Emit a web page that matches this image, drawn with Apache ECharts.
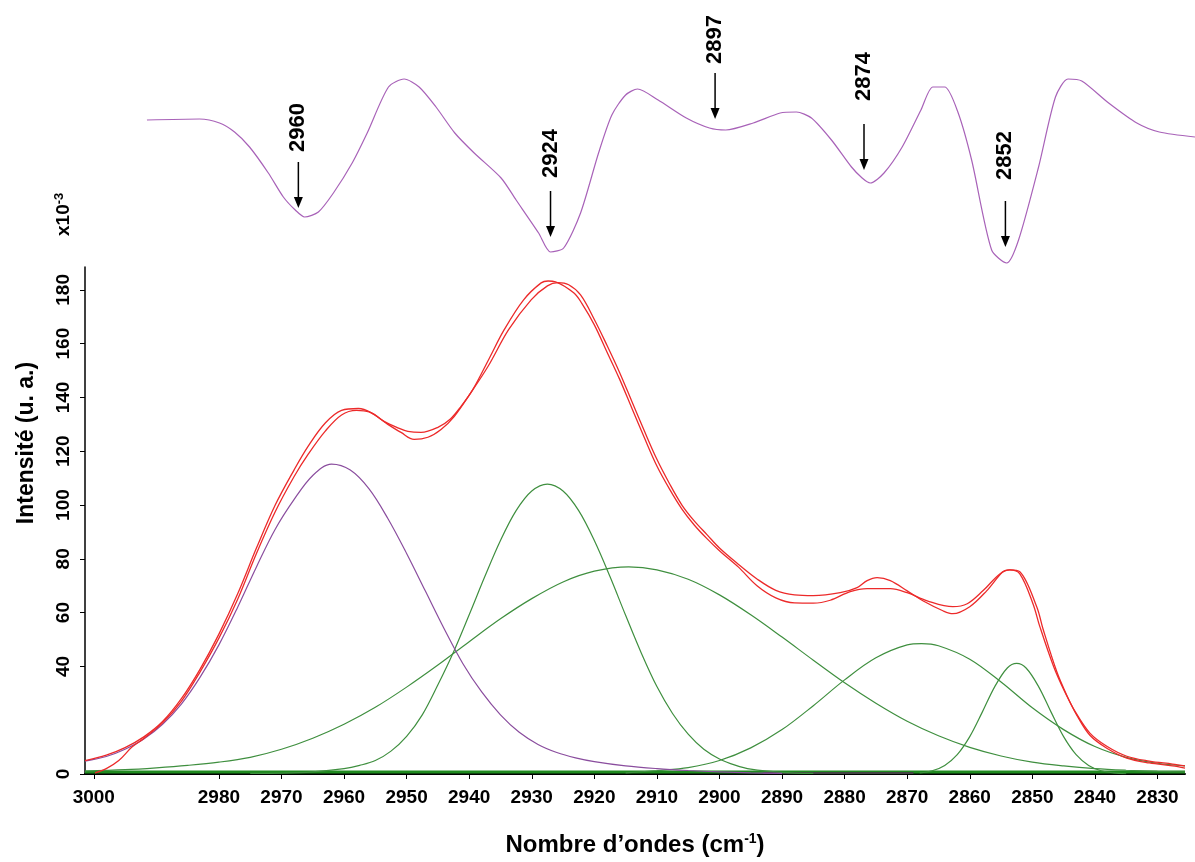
<!DOCTYPE html>
<html><head><meta charset="utf-8">
<script src="https://cdn.jsdelivr.net/npm/echarts@6/dist/echarts.min.js"></script>
<style>html,body{margin:0;padding:0;background:#fff}#c{width:1195px;height:862px}</style>
</head><body><div id="c"></div>
<script>
// ---------- DATA ----------
const xTickValues = [3000, 2980, 2970, 2960, 2950, 2940, 2930, 2920, 2910, 2900, 2890, 2880, 2870, 2860, 2850, 2840, 2830];
const yTickValues = [0, 40, 60, 80, 100, 120, 140, 160, 180];

// experimental spectrum (red)
const expWn = [2999.8, 2998, 2996, 2993.9, 2992, 2989, 2986, 2983, 2980, 2977, 2974, 2971, 2968, 2965.7, 2963, 2960.4, 2958, 2956, 2953, 2950.9, 2948.8, 2946.6, 2944.5, 2942.4, 2939.7, 2937, 2933.7, 2930.1, 2927.5, 2925.8, 2924.1, 2922.2, 2920, 2918, 2916, 2914, 2912, 2910, 2908, 2906, 2904, 2902, 2900, 2897, 2894, 2891, 2888, 2885, 2880.7, 2878, 2876.4, 2874.8, 2872.7, 2870, 2867.5, 2864.3, 2862.7, 2860, 2857.3, 2854.7, 2853.6, 2852, 2849.9, 2848.8, 2846.6, 2844.8, 2843.1, 2840.8, 2838.1, 2834.9, 2831.3, 2827.6, 2825.6];
const expVal = [0.4, 2.0, 5.0, 10.0, 13.2, 19, 27, 38, 50.5, 65, 82, 97.5, 110.5, 119, 127.5, 133.5, 135.2, 134.6, 130, 127, 124.4, 125.2, 128.1, 132.9, 141.9, 151.5, 165.2, 176.3, 181.5, 182.7, 181.9, 178.1, 169, 159.5, 149.5, 138.5, 127.5, 117, 108, 100, 94, 89, 84, 78, 72.5, 68.3, 66.6, 66.3, 67.4, 69.3, 71.9, 73.0, 71.9, 68.1, 64.4, 60.7, 59.6, 62.2, 68.1, 75.2, 75.9, 74.4, 63.3, 54.8, 40, 30.5, 23, 15.2, 10.3, 6.6, 4.8, 3.7, 3.0];

// fitted sum (red)
const fitWn = [3001.4, 2998, 2995, 2992, 2989, 2986, 2983, 2980, 2977, 2974, 2971, 2968, 2965.7, 2963, 2960.4, 2957.7, 2955.5, 2953.6, 2951.5, 2949.8, 2947.7, 2945, 2943, 2941.3, 2939.4, 2936.8, 2934.4, 2931.3, 2928.5, 2927.4, 2926.2, 2923.3, 2922, 2920, 2918, 2916, 2914, 2912, 2910, 2908, 2906, 2904, 2902, 2900, 2897, 2894, 2891, 2888, 2885, 2882.3, 2879.1, 2876.4, 2872.7, 2870, 2866.8, 2862.7, 2860.4, 2857.9, 2855.2, 2853.6, 2852, 2849.3, 2848.3, 2846.1, 2844.5, 2842.9, 2840.8, 2838.1, 2834.9, 2831.3, 2827.6, 2825.6];
const fitVal = [5.0, 7.0, 9.8, 13.8, 19.5, 28, 39, 52, 67, 84, 100, 113, 122, 130.5, 135.2, 135.9, 134.2, 131.1, 128.8, 127.4, 127, 128.9, 132, 136.7, 143, 154.5, 165.2, 176.3, 182.6, 183.3, 183, 178.9, 175, 167, 157, 147, 136, 125, 114.5, 106, 98.5, 92.5, 87.5, 83, 77, 70, 65.5, 63.6, 63.5, 64.6, 67.8, 68.9, 68.9, 67.4, 64.4, 62.2, 63.3, 68.1, 74.4, 75.9, 75.2, 62.2, 54, 38.1, 29.3, 21.9, 14.4, 9.6, 5.9, 4.1, 3.0, 2.2];

// component 2962 (purple)
const p2962Wn = [3001.4, 2998, 2995, 2992, 2989, 2986, 2983, 2980, 2977, 2974, 2971, 2968, 2965, 2962, 2959, 2956, 2953, 2950, 2947, 2944, 2941, 2938, 2935, 2932, 2929, 2926, 2923, 2920, 2915, 2910, 2905, 2900, 2895, 2890];
const p2962Val = [4.8, 6.5, 9.2, 13, 18.5, 26, 36, 48, 62, 77, 91, 102, 111, 115.2, 113, 106, 95, 82, 68, 54, 41, 30.5, 22, 15.5, 11, 8, 6, 4.6, 3, 2, 1.3, 0.8, 0.4, 0.2];

// component 2928 (green)
const p2928Wn = [2975, 2970, 2965, 2960, 2957.5, 2955, 2952.5, 2950, 2947.5, 2945, 2942.5, 2940, 2937.5, 2935, 2932.5, 2930, 2927.5, 2925, 2922.5, 2920, 2917.5, 2915, 2912.5, 2910, 2907.5, 2905, 2902.5, 2900, 2897.5, 2895, 2890, 2885];
const p2928Val = [0.2, 0.3, 0.8, 2.0, 3.2, 5.0, 8.5, 14.0, 22, 33.2, 45.4, 59.2, 73.4, 86.8, 97.9, 105.2, 107.8, 105.2, 97.9, 86.8, 73.4, 59, 45, 32.5, 22.5, 14.8, 9.2, 5.6, 3.3, 1.8, 0.6, 0.2];

// component 2916 (broad, green)
const p2916Wn = [3001.4, 2995, 2990, 2985, 2980, 2975, 2970, 2965, 2960, 2955, 2950, 2945, 2940, 2935, 2930, 2925, 2920, 2914.5, 2910, 2905, 2900, 2895, 2890, 2885, 2880, 2875, 2870, 2865, 2860, 2855, 2850, 2845, 2840, 2835, 2830, 2825.6];
const p2916Val = [1.1, 1.6, 2.3, 3.2, 4.4, 6.2, 9.2, 13.3, 18.5, 24.8, 32.3, 40.5, 49.2, 57.7, 65.2, 71.4, 75.4, 77, 75.9, 72.4, 66.6, 59.2, 50.9, 42.3, 33.9, 26.3, 19.6, 14.2, 9.9, 6.7, 4.4, 3.0, 2.0, 1.4, 1.0, 0.8];

// component 2868 (green)
const p2868Wn = [2915, 2910, 2905, 2900, 2895, 2890, 2885, 2880, 2875, 2870, 2867.7, 2865, 2860, 2855, 2850, 2845, 2840, 2835, 2830, 2825.6];
const p2868Val = [0.4, 1.3, 2.4, 5.0, 9.7, 16.5, 25.4, 35.0, 43.2, 48.0, 48.5, 47.7, 42.7, 34.2, 24.6, 16.5, 10.2, 6.2, 4.0, 3.0];

// component 2853 (green)
const p2853Wn = [2868, 2866, 2864, 2862, 2860, 2858, 2856, 2854, 2852.5, 2851, 2849, 2847, 2845, 2843, 2841, 2839, 2837, 2835];
const p2853Val = [0.4, 1.2, 3.2, 7.2, 13.9, 23.0, 32.5, 39.4, 41.1, 39.4, 32.5, 23.0, 13.9, 7.2, 3.2, 1.2, 0.4, 0.1];

// baseline (green) and dark segment
const baseWn = [3001.4, 2825.6];
const baseVal = [0.7, 0.7];
const darkWn = [2893, 2869];
const darkVal = [0.4, 0.4];

// second derivative (top panel, x10^-3)
const derivWn = [2991.5, 2983.1, 2979.9, 2977.5, 2975.1, 2972.1, 2969.7, 2967.8, 2966.3, 2964.1, 2961.7, 2958.7, 2956.3, 2952.9, 2950.4, 2948.0, 2945.3, 2942.3, 2939.2, 2934.9, 2932.5, 2928.9, 2927.0, 2924.9, 2922.2, 2919.3, 2917.2, 2915.0, 2913.1, 2909.8, 2905.3, 2901.6, 2899.0, 2894.6, 2890.3, 2887.7, 2885.3, 2882.1, 2878.9, 2877.2, 2875.9, 2873.7, 2870.8, 2867.8, 2865.9, 2864.0, 2861.9, 2859.7, 2856.5, 2854.1, 2852.2, 2849.0, 2846.3, 2844.3, 2842.1, 2837.8, 2833.3, 2829.7, 2824.0];
const derivVal = [0, 0.04, -0.12, -0.48, -1.08, -2.12, -3.08, -3.6, -3.88, -3.68, -2.92, -1.72, -0.52, 1.32, 1.64, 1.32, 0.52, -0.52, -1.32, -2.32, -3.2, -4.52, -5.28, -5.12, -3.72, -1.3, 0.2, 1.0, 1.24, 0.8, 0.08, -0.32, -0.4, -0.12, 0.28, 0.32, 0.08, -0.8, -1.88, -2.32, -2.52, -2.12, -1.08, 0.4, 1.32, 1.32, 0.32, -1.6, -5.2, -5.72, -4.8, -1.88, 0.92, 1.64, 1.56, 0.68, -0.12, -0.48, -0.68];

// annotations on the derivative
const annoLabels = ['2960', '2924', '2897', '2874', '2852'];
const annoWn = [2967.3, 2927.0, 2900.7, 2876.9, 2854.3];
const annoTip = [-3.52, -4.68, 0.04, -2.0, -5.08];

// ---------- STYLE / LAYOUT ----------
const FONT = '"Liberation Sans", Arial, sans-serif';
const annoLabelGap = [10, 13, 9, 23, 21];
const RED = '#ec2a2a', GREEN = '#3f8f3f', PURPLE = '#8a4d9e', DERIV = '#a862b8';

const pairs = (wn, v) => wn.map((w, i) => [w, v[i]]);
const lineSeries = (name, wn, v, color, width, z, smooth) => ({
  name, type: 'line', xAxisIndex: 0, yAxisIndex: 0, data: pairs(wn, v),
  showSymbol: false, smooth: smooth === undefined ? 0.35 : smooth, z: z || 2,
  lineStyle: { color, width }, itemStyle: { color }, silent: true, animation: false
});

const chart = echarts.init(document.getElementById('c'), null, { renderer: 'canvas' });
chart.setOption({
  backgroundColor: '#fff',
  animation: false,
  textStyle: { fontFamily: FONT },
  grid: [
    { left: 85, right: 10, top: 267, bottom: 86 },
    { left: 85, right: 0, top: 70, height: 200 }
  ],
  xAxis: [
    {
      gridIndex: 0, type: 'value', inverse: true, min: 2825.6, max: 3001.4,
      axisLine: { show: true, onZero: false, lineStyle: { color: '#000', width: 2 } },
      axisTick: { show: true, customValues: xTickValues, length: 5, lineStyle: { color: '#000', width: 1 } },
      axisLabel: { customValues: xTickValues, formatter: v => String(v), margin: 14, fontSize: 19, fontWeight: 'bold', color: '#000', fontFamily: FONT },
      splitLine: { show: false },
      name: 'Nombre d’ondes (cm{sup|-1})', nameLocation: 'middle', nameGap: 58,
      nameTextStyle: {
        fontSize: 24, fontWeight: 'bold', color: '#000', fontFamily: FONT,
        rich: { sup: { fontSize: 14, fontWeight: 'bold', color: '#000', fontFamily: FONT, verticalAlign: 'top', padding: [0, 0, 12, 0] } }
      }
    },
    { gridIndex: 1, type: 'value', inverse: true, min: 2824.0, max: 3001.4, show: false }
  ],
  yAxis: [
    {
      gridIndex: 0, type: 'value', min: 0, max: 188.5,
      axisLine: { show: true, onZero: false, lineStyle: { color: '#000', width: 1.5 } },
      axisTick: { show: true, customValues: yTickValues, length: 5, lineStyle: { color: '#000', width: 1 } },
      axisLabel: { customValues: yTickValues, formatter: v => String(v), rotate: 90, margin: 12, fontSize: 19, fontWeight: 'bold', color: '#000', fontFamily: FONT },
      splitLine: { show: false }
    },
    { gridIndex: 1, type: 'value', min: -6, max: 2, show: false }
  ],
  graphic: [
    {
      type: 'text', x: 27, y: 443, rotation: Math.PI / 2, silent: true,
      style: { text: 'Intensité (u. a.)', fill: '#000', fontSize: 23, fontWeight: 'bold', fontFamily: FONT, textAlign: 'center', textVerticalAlign: 'middle' }
    },
    {
      type: 'text', x: 64, y: 236, rotation: Math.PI / 2, silent: true,
      style: {
        text: '{b|x10}{s|-3}', fill: '#000', fontSize: 19, fontWeight: 'bold', fontFamily: FONT, textAlign: 'left', textVerticalAlign: 'middle',
        rich: {
          b: { fontSize: 19, fontWeight: 'bold', fill: '#000', fontFamily: FONT, lineHeight: 22 },
          s: { fontSize: 13, fontWeight: 'bold', fill: '#000', fontFamily: FONT, verticalAlign: 'top', lineHeight: 14 }
        }
      }
    }
  ],
  series: [
    lineSeries('Ligne de base', baseWn, baseVal, '#1f8a1f', 3, 1, false),
    lineSeries('Segment', darkWn, darkVal, '#444', 2, 1, false),
    lineSeries('2853', p2853Wn, p2853Val, GREEN, 1.2, 2),
    lineSeries('2868', p2868Wn, p2868Val, GREEN, 1.2, 2),
    lineSeries('2916', p2916Wn, p2916Val, GREEN, 1.2, 2),
    lineSeries('2928', p2928Wn, p2928Val, GREEN, 1.2, 2),
    lineSeries('2962', p2962Wn, p2962Val, PURPLE, 1.2, 3),
    lineSeries('Somme', fitWn, fitVal, RED, 1.3, 4),
    lineSeries('Expérimental', expWn, expVal, RED, 1.3, 4),
    {
      name: 'Dérivée seconde', type: 'line', xAxisIndex: 1, yAxisIndex: 1,
      data: pairs(derivWn, derivVal), showSymbol: false, smooth: 0.25, silent: true,
      lineStyle: { color: DERIV, width: 1.2 }, itemStyle: { color: DERIV }
    },
    {
      name: 'Annotations', type: 'custom', xAxisIndex: 1, yAxisIndex: 1, silent: true, clip: false,
      data: annoWn.map((w, i) => [w, annoTip[i], i]),
      renderItem: function (params, api) {
        const p = api.coord([api.value(0), api.value(1)]);
        const i = api.value(2);
        const len = 46, head = 11, hw = 4.5;
        return {
          type: 'group', children: [
            { type: 'line', shape: { x1: p[0], y1: p[1] - len, x2: p[0], y2: p[1] - head + 1 }, style: { stroke: '#000', lineWidth: 1.5 } },
            { type: 'polygon', shape: { points: [[p[0] - hw, p[1] - head], [p[0] + hw, p[1] - head], [p[0], p[1]]] }, style: { fill: '#000' } },
            { type: 'text', x: p[0], y: p[1] - len - annoLabelGap[i], rotation: Math.PI / 2,
              style: { text: annoLabels[i], fill: '#000', fontSize: 22, fontWeight: 'bold', fontFamily: FONT, textAlign: 'left', textVerticalAlign: 'middle' } }
          ]
        };
      }
    }
  ]
});
</script>
</body></html>
